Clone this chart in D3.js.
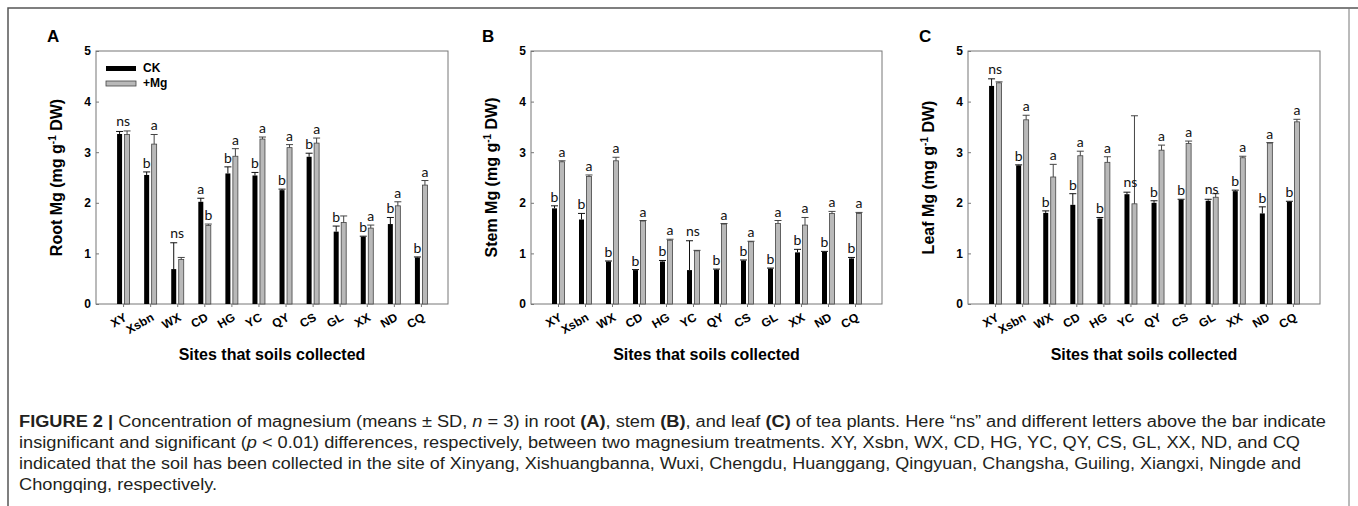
<!DOCTYPE html>
<html>
<head>
<meta charset="utf-8">
<script src="https://cdn.jsdelivr.net/npm/d3@7"></script>
<style>
  body { margin: 0; background: #fff; }
  svg { display: block; }
</style>
</head>
<body>
<div id="chart"></div>
<script>
// sites and y ticks shared by all three panels
const sites = ["XY", "Xsbn", "WX", "CD", "HG", "YC", "QY", "CS", "GL", "XX", "ND", "CQ"];
const yTicks = [0, 1, 2, 3, 4, 5];
const seriesNames = ["CK", "+Mg"];

// A - root
const rootCK = [3.36, 2.55, 0.69, 2.02, 2.58, 2.54, 2.25, 2.91, 1.43, 1.33, 1.58, 0.92];
const rootCKsd = [0.05, 0.06, 0.52, 0.07, 0.13, 0.06, 0.02, 0.07, 0.11, 0.01, 0.13, 0.01];
const rootMg = [3.35, 3.16, 0.88, 1.55, 2.92, 3.26, 3.09, 3.18, 1.61, 1.5, 1.94, 2.35];
const rootMgSd = [0.07, 0.19, 0.04, 0.03, 0.15, 0.04, 0.06, 0.1, 0.13, 0.06, 0.08, 0.09];
const rootSigCK = ["", "b", "", "a", "b", "b", "b", "b", "b", "b", "b", "b"];
const rootSigMg = ["", "a", "", "b", "a", "a", "a", "a", "", "a", "a", "a"];
const rootSigNs = ["ns", "", "ns", "", "", "", "", "", "", "", "", ""];

// B - stem
const stemCK = [1.89, 1.67, 0.84, 0.67, 0.84, 0.67, 0.68, 0.86, 0.7, 1.02, 1.03, 0.9];
const stemCKsd = [0.05, 0.12, 0.01, 0.01, 0.02, 0.58, 0.01, 0.01, 0.01, 0.06, 0.01, 0.02];
const stemMg = [2.81, 2.52, 2.83, 1.64, 1.26, 1.05, 1.58, 1.23, 1.59, 1.56, 1.79, 1.79];
const stemMgSd = [0.02, 0.03, 0.07, 0.01, 0.02, 0.01, 0.01, 0.01, 0.06, 0.15, 0.04, 0.02];
const stemSigCK = ["b", "b", "b", "b", "b", "", "b", "b", "b", "b", "b", "b"];
const stemSigMg = ["a", "a", "a", "a", "a", "", "a", "a", "a", "a", "a", "a"];
const stemSigNs = ["", "", "", "", "", "ns", "", "", "", "", "", ""];

// C - leaf
const leafCK = [4.31, 2.74, 1.8, 1.96, 1.69, 2.17, 2.0, 2.06, 2.04, 2.23, 1.79, 2.02];
const leafCKsd = [0.14, 0.01, 0.04, 0.22, 0.02, 0.04, 0.04, 0.01, 0.03, 0.02, 0.13, 0.01];
const leafMg = [4.37, 3.64, 2.51, 2.93, 2.8, 1.98, 3.04, 3.17, 2.11, 2.89, 3.18, 3.6];
const leafMgSd = [0.02, 0.09, 0.25, 0.09, 0.11, 1.74, 0.1, 0.05, 0.07, 0.03, 0.01, 0.05];
const leafSigCK = ["", "b", "b", "b", "b", "", "b", "b", "", "b", "b", "b"];
const leafSigMg = ["", "a", "a", "a", "a", "", "a", "a", "", "a", "a", "a"];
const leafSigNs = ["ns", "", "", "", "", "ns", "", "", "ns", "", "", ""];

const width = 1358;
const height = 506;
const plotTop = 51;
const plotBottom = 304;

const svg = d3
  .select("#chart")
  .append("svg")
  .attr("width", width)
  .attr("height", height);

svg.append("rect").attr("width", width).attr("height", height).attr("fill", "#fff");

// outer frame
svg.append("path")
  .attr("d", `M8,${height} V8 H${width}`)
  .attr("fill", "none")
  .attr("stroke", "#555")
  .attr("stroke-width", 1.5);
svg.append("line")
  .attr("x1", 1349).attr("x2", 1349).attr("y1", 8).attr("y2", height)
  .attr("stroke", "#777")
  .attr("stroke-width", 1);

const panels = [
  { tag: "A", organ: "Root", left: 96, right: 448, ck: rootCK, ckSd: rootCKsd, mg: rootMg, mgSd: rootMgSd, sigCK: rootSigCK, sigMg: rootSigMg, sigNs: rootSigNs, legend: true },
  { tag: "B", organ: "Stem", left: 531, right: 882, ck: stemCK, ckSd: stemCKsd, mg: stemMg, mgSd: stemMgSd, sigCK: stemSigCK, sigMg: stemSigMg, sigNs: stemSigNs, legend: false },
  { tag: "C", organ: "Leaf", left: 968, right: 1320, ck: leafCK, ckSd: leafCKsd, mg: leafMg, mgSd: leafMgSd, sigCK: leafSigCK, sigMg: leafSigMg, sigNs: leafSigNs, legend: false }
];

panels.forEach(drawPanel);

function drawPanel(p) {
  const x = d3.scalePoint().domain(sites).range([p.left, p.right]).padding(1);
  const y = d3.scaleLinear().domain([0, 5]).range([plotBottom, plotTop]);
  const g = svg.append("g");

  g.append("rect")
    .attr("x", p.left)
    .attr("y", plotTop)
    .attr("width", p.right - p.left)
    .attr("height", plotBottom - plotTop)
    .attr("fill", "none")
    .attr("stroke", "#777")
    .attr("stroke-width", 1);

  // y axis, ticks pointing inwards
  const ya = g.append("g")
    .attr("transform", `translate(${p.left},0)`)
    .call(d3.axisLeft(y).tickValues(yTicks).tickSize(-3).tickPadding(5).tickFormat(d3.format("d")));
  ya.select(".domain").remove();
  ya.selectAll("line").attr("stroke", "#777");
  ya.selectAll("text")
    .style("font-family", "'Liberation Sans', Arial, sans-serif")
    .style("font-weight", "bold")
    .style("font-size", "12px")
    .attr("fill", "#000");

  // x axis with slanted site names
  const xa = g.append("g")
    .attr("transform", `translate(0,${plotBottom})`)
    .call(d3.axisBottom(x).tickSize(3));
  xa.select(".domain").remove();
  xa.selectAll("line").attr("stroke", "#777");
  xa.selectAll("text")
    .attr("x", 0)
    .attr("y", 0)
    .attr("dy", "0.35em")
    .attr("text-anchor", "end")
    .attr("transform", "translate(2,12) rotate(-30)")
    .style("font-family", "'Liberation Sans', Arial, sans-serif")
    .style("font-weight", "bold")
    .style("font-size", "12px")
    .attr("fill", "#000");

  // bars
  g.selectAll(".ck")
    .data(p.ck)
    .enter()
    .append("rect")
    .attr("class", "ck")
    .attr("x", (d, i) => x(sites[i]) - 6)
    .attr("y", (d) => y(d))
    .attr("width", 5)
    .attr("height", (d) => y(0) - y(d))
    .attr("fill", "#000");

  g.selectAll(".mg")
    .data(p.mg)
    .enter()
    .append("rect")
    .attr("class", "mg")
    .attr("x", (d, i) => x(sites[i]) + 1.5)
    .attr("y", (d) => y(d))
    .attr("width", 5)
    .attr("height", (d) => y(0) - y(d))
    .attr("fill", "#b9b9b9")
    .attr("stroke", "#444")
    .attr("stroke-width", 0.8);

  // error bars (upper half only)
  const errPath = (cx, v, sd) =>
    `M${cx},${y(v)} V${y(v + sd)} M${cx - 3.5},${y(v + sd)} H${cx + 3.5}`;

  g.selectAll(".ckErr")
    .data(p.ck)
    .enter()
    .append("path")
    .attr("d", (d, i) => errPath(x(sites[i]) - 3.5, d, p.ckSd[i]))
    .attr("fill", "none")
    .attr("stroke", "#111")
    .attr("stroke-width", 1);

  g.selectAll(".mgErr")
    .data(p.mg)
    .enter()
    .append("path")
    .attr("d", (d, i) => errPath(x(sites[i]) + 4, d, p.mgSd[i]))
    .attr("fill", "none")
    .attr("stroke", "#444")
    .attr("stroke-width", 1);

  // significance letters
  const letterStyle = (sel) =>
    sel.attr("text-anchor", "middle")
      .style("font-family", "Lato, 'Open Sans', sans-serif")
      .style("font-size", "14px")
      .attr("fill", "#111");

  g.selectAll(".sigCK")
    .data(p.sigCK)
    .enter()
    .append("text")
    .attr("x", (d, i) => x(sites[i]) - 3.5)
    .attr("y", (d, i) => y(p.ck[i] + p.ckSd[i]) - 4)
    .text((d) => d)
    .call(letterStyle);

  g.selectAll(".sigMg")
    .data(p.sigMg)
    .enter()
    .append("text")
    .attr("x", (d, i) => x(sites[i]) + 4)
    .attr("y", (d, i) => y(p.mg[i] + p.mgSd[i]) - 4)
    .text((d) => d)
    .call(letterStyle);

  g.selectAll(".sigNs")
    .data(p.sigNs)
    .enter()
    .append("text")
    .attr("x", (d, i) => x(sites[i]))
    .attr("y", (d, i) => y(p.ck[i] + p.ckSd[i]) - 5)
    .text((d) => d)
    .call(letterStyle);

  // panel tag
  g.append("text")
    .attr("x", p.left - 49)
    .attr("y", 42)
    .text(p.tag)
    .style("font-family", "'Liberation Sans', Arial, sans-serif")
    .style("font-weight", "bold")
    .style("font-size", "17px");

  // y title
  const yt = g.append("text")
    .attr("transform", `translate(${p.left - 34},${(plotTop + plotBottom) / 2}) rotate(-90)`)
    .attr("text-anchor", "middle")
    .style("font-family", "'Liberation Sans', Arial, sans-serif")
    .style("font-weight", "bold")
    .style("font-size", "16px");
  yt.append("tspan").text(`${p.organ} Mg (mg g`);
  yt.append("tspan").attr("dy", -6).style("font-size", "10px").text("-1");
  yt.append("tspan").attr("dy", 6).text(" DW)");

  // x title
  g.append("text")
    .attr("x", (p.left + p.right) / 2)
    .attr("y", 360)
    .attr("text-anchor", "middle")
    .text("Sites that soils collected")
    .style("font-family", "'Liberation Sans', Arial, sans-serif")
    .style("font-weight", "bold")
    .style("font-size", "16px");

  if (p.legend) {
    const colors = ["#000", "#b9b9b9"];
    const lg = g.selectAll(".legend")
      .data(seriesNames)
      .enter()
      .append("g")
      .attr("transform", (d, i) => `translate(${p.left + 10},${66 + i * 15})`);
    lg.append("rect")
      .attr("width", 30)
      .attr("height", 5)
      .attr("fill", (d, i) => colors[i])
      .attr("stroke", (d, i) => (i ? "#444" : "none"))
      .attr("stroke-width", 0.8);
    lg.append("text")
      .attr("x", 37)
      .attr("y", 6)
      .text((d) => d)
      .style("font-family", "'Liberation Sans', Arial, sans-serif")
      .style("font-weight", "bold")
      .style("font-size", "12px");
  }
}

// caption
const captionLines = [
  [["FIGURE 2 | ", "b"], ["Concentration of magnesium (means \u00b1 SD, ", ""], ["n", "i"], [" = 3) in root ", ""], ["(A)", "b"], [", stem ", ""], ["(B)", "b"], [", and leaf ", ""], ["(C)", "b"], [" of tea plants. Here \u201cns\u201d and different letters above the bar indicate", ""]],
  [["insignificant and significant (", ""], ["p", "i"], [" < 0.01) differences, respectively, between two magnesium treatments. XY, Xsbn, WX, CD, HG, YC, QY, CS, GL, XX, ND, and CQ", ""]],
  [["indicated that the soil has been collected in the site of Xinyang, Xishuangbanna, Wuxi, Chengdu, Huanggang, Qingyuan, Changsha, Guiling, Xiangxi, Ningde and", ""]],
  [["Chongqing, respectively.", ""]]
];
// right ends of the full caption lines
const captionEnds = [1326, 1300, 1301, null];

const capTexts = captionLines.map((parts, li) => {
  const t = svg.append("text")
    .attr("x", 19)
    .attr("y", 427 + li * 21)
    .style("font-family", "'Liberation Sans', Arial, sans-serif")
    .style("font-size", "16px")
    .attr("fill", "#231f20");
  parts.forEach(([s, f]) => {
    t.append("tspan")
      .text(s)
      .style("font-weight", f === "b" ? "bold" : "normal")
      .style("font-style", f === "i" ? "italic" : "normal");
  });
  return t;
});

// squeeze the lines to the widths of the reference caption
const ratio = (captionEnds[0] - 19) / capTexts[0].node().getComputedTextLength();
capTexts.forEach((t, i) => {
  const len = captionEnds[i] ? captionEnds[i] - 19 : t.node().getComputedTextLength() * ratio;
  t.attr("textLength", len).attr("lengthAdjust", "spacingAndGlyphs");
});
</script>
</body>
</html>
